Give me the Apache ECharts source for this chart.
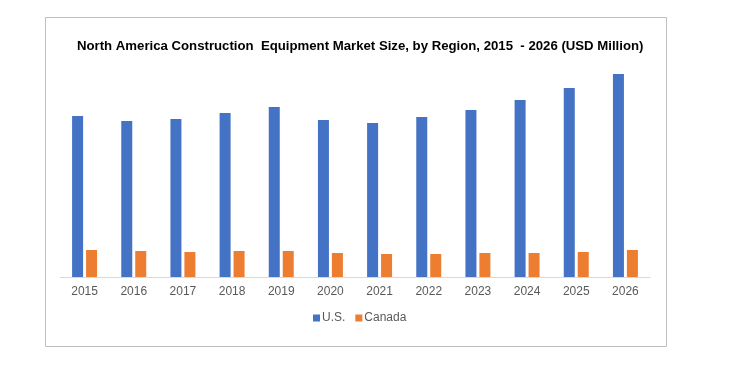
<!DOCTYPE html>
<html><head><meta charset="utf-8">
<script src="https://cdn.jsdelivr.net/npm/echarts@6/dist/echarts.min.js"></script>
<style>html,body{margin:0;padding:0;background:#fff}#c{width:736px;height:372px}</style>
</head><body><div id="c"></div>
<script>
const categories = ['2015','2016','2017','2018','2019','2020','2021','2022','2023','2024','2025','2026'];
const usValues = [16100, 15600, 15800, 16400, 17000, 15700, 15400, 16000, 16700, 17700, 18900, 20300];
const canadaValues = [2700, 2600, 2500, 2600, 2600, 2400, 2300, 2300, 2400, 2400, 2500, 2700];
const seriesNames = ['U.S.', 'Canada'];
const titleText = 'North America Construction  Equipment Market Size, by Region, 2015  - 2026 (USD Million)';

const chart = echarts.init(document.getElementById('c'));
chart.setOption({
  animation: false,
  backgroundColor: '#fff',
  graphic: [{type:'rect', shape:{x:45.5,y:17.5,width:621,height:329}, style:{fill:'none', stroke:'#bfbfbf', lineWidth:1}, silent:true}],
  title: {text: titleText, left: 72, top: 35, textStyle:{fontFamily:'Liberation Sans, Arial', fontWeight:'bold', fontSize:13.2, color:'#000'}},
  legend: {data: seriesNames, left: 308, top: 307, itemWidth: 7, itemHeight: 7, itemGap: 10, icon: 'rect',
    textStyle:{fontFamily:'Liberation Sans, Arial', fontSize:12, color:'#595959', padding:[0,0,0,-3]}},
  grid: {left: 60, right: 86, top: 47, bottom: 95, containLabel: false},
  xAxis: {type:'category', data: categories, axisLine:{lineStyle:{color:'#d9d9d9'}}, axisTick:{show:false},
    axisLabel:{fontFamily:'Liberation Sans, Arial', fontSize:12, color:'#595959', margin:9}},
  yAxis: {type:'value', min:0, max:23000, show:false, splitLine:{show:false}},
  series: [
    {name: seriesNames[0], type:'bar', data: usValues, itemStyle:{color:'#4472C4'}, barWidth: 11, barGap:'27%'},
    {name: seriesNames[1], type:'bar', data: canadaValues, itemStyle:{color:'#ED7D31'}, barWidth: 11, barGap:'27%'}
  ]
});
</script></body></html>
